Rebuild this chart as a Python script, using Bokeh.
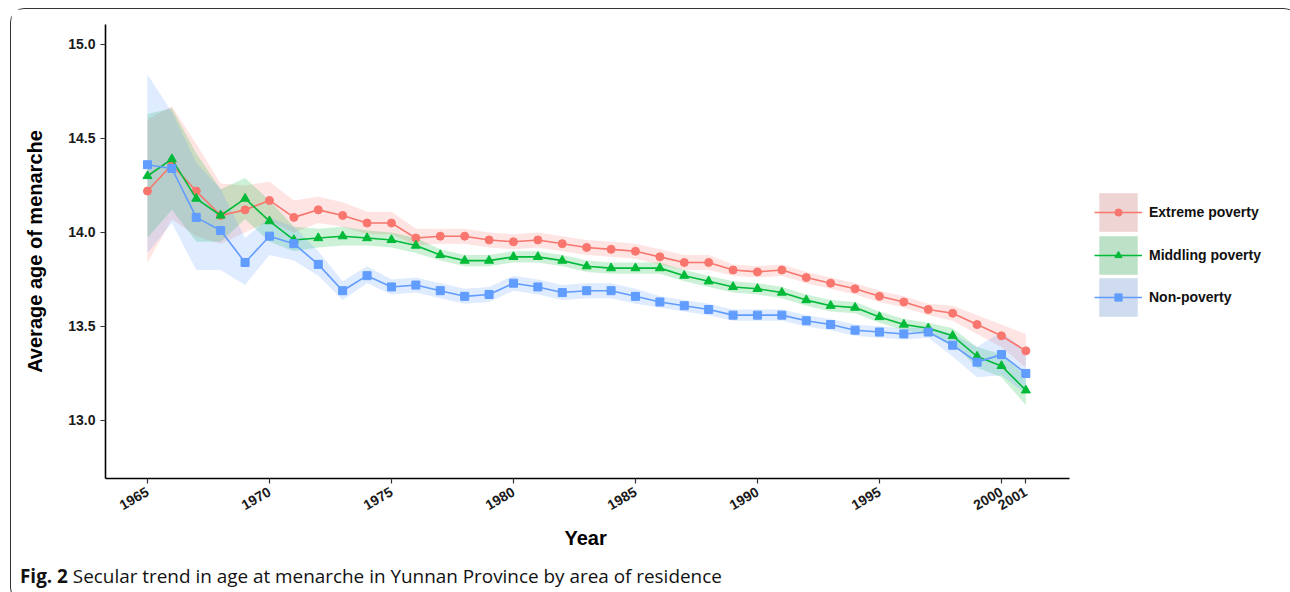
from bokeh.plotting import figure
from bokeh.models import (ColumnDataSource, Range1d, FixedTicker, PrintfTickFormatter,
                          Legend, LegendItem, Div, Title)
from bokeh.layouts import column
from bokeh.embed import file_html
from bokeh.resources import INLINE
from math import pi

years = list(range(1965, 2002))

extreme = [14.22, 14.36, 14.22, 14.09, 14.12, 14.17, 14.08, 14.12, 14.09, 14.05,
           14.05, 13.97, 13.98, 13.98, 13.96, 13.95, 13.96, 13.94, 13.92, 13.91,
           13.90, 13.87, 13.84, 13.84, 13.80, 13.79, 13.80, 13.76, 13.73, 13.70,
           13.66, 13.63, 13.59, 13.57, 13.51, 13.45, 13.37]
extreme_lo = [13.84, 14.07, 13.98, 13.94, 14.00, 14.06, 14.00, 14.05, 14.03, 13.99,
              13.99, 13.93, 13.94, 13.94, 13.92, 13.91, 13.92, 13.90, 13.88, 13.87,
              13.86, 13.83, 13.80, 13.80, 13.77, 13.76, 13.77, 13.73, 13.70, 13.67,
              13.63, 13.60, 13.56, 13.53, 13.46, 13.39, 13.28]
extreme_hi = [14.60, 14.67, 14.47, 14.26, 14.25, 14.27, 14.17, 14.19, 14.16, 14.11,
              14.11, 14.02, 14.02, 14.02, 14.00, 13.99, 14.00, 13.98, 13.96, 13.95,
              13.94, 13.91, 13.88, 13.88, 13.83, 13.82, 13.83, 13.79, 13.76, 13.73,
              13.69, 13.66, 13.62, 13.61, 13.56, 13.51, 13.46]

middling = [14.30, 14.39, 14.18, 14.09, 14.18, 14.06, 13.96, 13.97, 13.98, 13.97,
            13.96, 13.93, 13.88, 13.85, 13.85, 13.87, 13.87, 13.85, 13.82, 13.81,
            13.81, 13.81, 13.77, 13.74, 13.71, 13.70, 13.68, 13.64, 13.61, 13.60,
            13.55, 13.51, 13.49, 13.45, 13.34, 13.29, 13.16]
middling_lo = [13.97, 14.12, 13.95, 13.95, 14.07, 13.95, 13.90, 13.92, 13.93, 13.93,
               13.92, 13.89, 13.85, 13.82, 13.82, 13.84, 13.84, 13.82, 13.79, 13.78,
               13.78, 13.78, 13.74, 13.71, 13.68, 13.67, 13.65, 13.61, 13.58, 13.57,
               13.52, 13.48, 13.46, 13.41, 13.28, 13.23, 13.08]
middling_hi = [14.63, 14.66, 14.42, 14.23, 14.29, 14.17, 14.03, 14.02, 14.03, 14.01,
               14.00, 13.97, 13.91, 13.88, 13.88, 13.90, 13.90, 13.88, 13.85, 13.84,
               13.84, 13.84, 13.80, 13.77, 13.74, 13.73, 13.71, 13.67, 13.64, 13.63,
               13.58, 13.54, 13.52, 13.49, 13.39, 13.35, 13.24]

nonpov = [14.36, 14.34, 14.08, 14.01, 13.84, 13.98, 13.94, 13.83, 13.69, 13.77,
          13.71, 13.72, 13.69, 13.66, 13.67, 13.73, 13.71, 13.68, 13.69, 13.69,
          13.66, 13.63, 13.61, 13.59, 13.56, 13.56, 13.56, 13.53, 13.51, 13.48,
          13.47, 13.46, 13.47, 13.40, 13.31, 13.35, 13.25]
nonpov_lo = [13.89, 14.05, 13.80, 13.80, 13.72, 13.88, 13.85, 13.77, 13.64, 13.73,
             13.67, 13.68, 13.65, 13.62, 13.63, 13.69, 13.67, 13.64, 13.65, 13.65,
             13.62, 13.60, 13.58, 13.56, 13.53, 13.53, 13.53, 13.50, 13.48, 13.45,
             13.44, 13.43, 13.44, 13.34, 13.23, 13.24, 13.14]
nonpov_hi = [14.84, 14.64, 14.37, 14.23, 13.97, 14.08, 14.03, 13.90, 13.74, 13.82,
             13.75, 13.76, 13.73, 13.70, 13.71, 13.77, 13.75, 13.72, 13.73, 13.73,
             13.70, 13.66, 13.64, 13.62, 13.59, 13.59, 13.59, 13.56, 13.54, 13.51,
             13.50, 13.49, 13.50, 13.46, 13.39, 13.47, 13.37]

series_names = ["Extreme poverty", "Middling poverty", "Non-poverty"]
x_ticks = [1965, 1970, 1975, 1980, 1985, 1990, 1995, 2000, 2001]
y_ticks = [13.0, 13.5, 14.0, 14.5, 15.0]
caption_bold = "Fig. 2"
caption_text = "Secular trend in age at menarche in Yunnan Province by area of residence"

colors = ["#F8766D", "#00BA38", "#619CFF"]
markers = ["circle", "triangle", "square"]
FONT = "Liberation Sans"

X0 = 1963.28
X1 = 2002.8
p = figure(frame_width=1182, frame_height=454, output_backend="svg", toolbar_location=None,
           x_range=Range1d(X0, X0 + 1182 / 24.4), y_range=Range1d(12.691, 15.106),
           min_border_left=94, min_border_right=0, min_border_top=15, min_border_bottom=76)
p.outline_line_color = None
p.xgrid.visible = False
p.ygrid.visible = False
p.background_fill_color = "white"
p.border_fill_color = "white"

for ax in (p.xaxis[0], p.yaxis[0]):
    ax.axis_line_color = "black"
    ax.axis_line_width = 1.6
    ax.major_tick_line_color = "#333"
    ax.major_tick_line_width = 1.2
    ax.major_tick_out = 5
    ax.major_tick_in = 0
    ax.minor_tick_line_color = None
    ax.major_label_text_font = FONT
    ax.major_label_text_font_style = "bold"
    ax.major_label_text_font_size = "14px"
    ax.major_label_text_color = "#1a1a1a"
    ax.axis_label_text_font = FONT
    ax.axis_label_text_font_style = "bold"
    ax.axis_label_text_font_size = "20px"
    ax.axis_label_text_color = "black"

p.xaxis.ticker = FixedTicker(ticks=x_ticks)
p.xaxis.bounds = (X0, X1)
p.xaxis.major_label_orientation = pi / 6
p.xaxis.major_label_standoff = 7
p.yaxis.ticker = FixedTicker(ticks=y_ticks)
p.yaxis.formatter = PrintfTickFormatter(format="%.1f")
p.yaxis.axis_label = "Average age of menarche"
p.yaxis.axis_label_standoff = 19

# x-axis title centred under the drawn (bounded) axis, not the whole frame
p.add_layout(Title(text="Year", align="left", offset=459, standoff=15,
                   text_font=FONT, text_font_style="bold", text_font_size="20px",
                   text_color="black"), "below")

data = [(extreme, extreme_lo, extreme_hi), (middling, middling_lo, middling_hi),
        (nonpov, nonpov_lo, nonpov_hi)]

srcs = []
bands = []
keys = []
for (vals, lo, hi), col in zip(data, colors):
    src = ColumnDataSource(dict(x=years, y=vals, lo=lo, hi=hi))
    srcs.append(src)
    # zero-height area: only used for the grey legend-key background
    keys.append(p.varea(x="x", y1="lo", y2="lo", source=src, fill_color="#EBEBEB", fill_alpha=1))
    bands.append(p.varea(x="x", y1="lo", y2="hi", source=src, fill_color=col, fill_alpha=0.2))

common = dict(orientation="vertical", glyph_height=48, padding=0, margin=0,
              border_line_color=None, background_fill_alpha=0,
              label_text_font=FONT, label_text_font_style="bold",
              label_text_font_size="14px", label_text_color="#111")
legend_y = [242, 199, 157]
for src, col, mk, name, band, key, ly in zip(srcs, colors, markers, series_names, bands,
                                             keys, legend_y):
    ln = p.line(x="x", y="y", source=src, line_color=col, line_width=1.6)
    sc = p.scatter(x="x", y="y", source=src, marker=mk, size=8 if mk != "triangle" else 9,
                   fill_color=col, line_color=col)
    la = Legend(items=[LegendItem(label=name, renderers=[key, band, ln])],
                location=(989, ly), glyph_width=48, label_standoff=7, **common)
    lb = Legend(items=[LegendItem(label=" ", renderers=[sc])],
                location=(1004, ly), glyph_width=18, label_standoff=0, **common)
    p.add_layout(la)
    p.add_layout(lb)

cap = Div(text=f"<b>{caption_bold}</b> {caption_text}", width=1276, height=35,
          styles={"font-family": "Open Sans", "font-size": "18.9px", "color": "#111",
                  "padding-left": "4px", "line-height": "31px", "white-space": "nowrap"})

layout = column(p, cap, styles={"border": "1.5px solid #333", "border-radius": "14px",
                                "margin": "8px 0 0 10px", "background": "white"})

open("out.html", "w").write(file_html(layout, INLINE))
